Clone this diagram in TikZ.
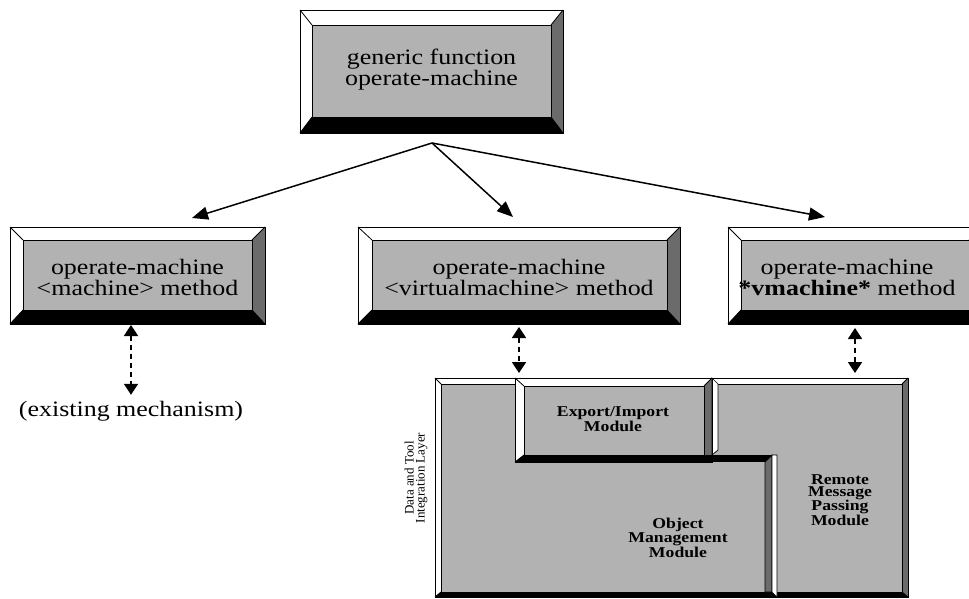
\documentclass[tikz,border=0pt]{standalone}
\usepackage{fontspec}
\setmainfont[FakeStretch=1.18]{Liberation Serif}
\newfontfamily\plainserif{Liberation Serif}
\usetikzlibrary{arrows.meta,calc}

\definecolor{facegray}{gray}{0.70}
\definecolor{bevdark}{gray}{0.42}

\tikzset{
  frame/.style={inner sep=0pt, outer sep=0pt},
  boxtext/.style={align=center, inner sep=0pt, font=\fontsize{22}{21}\selectfont},
  modtext/.style={align=center, inner sep=0pt, font=\fontsize{15}{11}\selectfont\bfseries},
  callarrow/.style={line width=1.5pt, -{Triangle[length=16pt,width=13pt]}},
  linkarrow/.style={line width=1.8pt, dash pattern=on 5pt off 4pt,
    {Triangle[length=11pt,width=14pt]}-{Triangle[length=11pt,width=14pt]}},
  ridge/.style={line width=0.7pt}
}

% bevelled box drawn round a named frame node: #1 name, #2 left, #3 top, #4 right, #5 bottom
\newcommand\bevelbox[5]{%
  \coordinate (o1) at (#1.north west);
  \coordinate (o2) at (#1.north east);
  \coordinate (o3) at (#1.south east);
  \coordinate (o4) at (#1.south west);
  \coordinate (i1) at ($(o1)+(#2,#3)$);
  \coordinate (i2) at ($(o2)+(-#4,#3)$);
  \coordinate (i3) at ($(o3)+(-#4,-#5)$);
  \coordinate (i4) at ($(o4)+(#2,-#5)$);
  \fill[white] (o1)--(o2)--(i2)--(i1)--cycle;
  \fill[white] (o1)--(i1)--(i4)--(o4)--cycle;
  \fill[bevdark] (o2)--(o3)--(i3)--(i2)--cycle;
  \fill[black] (o4)--(i4)--(i3)--(o3)--cycle;
  \filldraw[fill=facegray, draw=black, line width=0.6pt] (i1) rectangle (i3);
  \draw[line width=0.8pt] (o1)--(i1) (o2)--(i2) (o3)--(i3) (o4)--(i4);
  \draw[line width=1pt] (o1) rectangle (o3);
}

\begin{document}
\begin{tikzpicture}[x=1pt,y=-1pt]
\useasboundingbox (0,0) rectangle (969,598);
\clip (0,0) rectangle (969,598);

% generic function
\node[frame, minimum width=263pt, minimum height=123pt] (top) at (431.5,71.5) {};
\bevelbox{top}{12}{15}{12}{16}
\node[boxtext] (toptext) at (431.5,70) {generic function\\operate-machine};

% the three methods
\node[frame, minimum width=255pt, minimum height=97pt] (lbox) at (137.5,275.5) {};
\bevelbox{lbox}{13}{13}{13}{14}
\node[boxtext] (ltext) at (137.5,277) {operate-machine\\<machine> method};

\node[frame, minimum width=322pt, minimum height=97pt] (mbox) at (519,275.5) {};
\bevelbox{mbox}{14}{13}{13}{14}
\node[boxtext] (mtext) at (519,277) {operate-machine\\<virtualmachine> method};

\node[frame, minimum width=254pt, minimum height=97pt] (rbox) at (855,275.5) {};
\bevelbox{rbox}{13}{13}{13}{14}
\node[boxtext] (rtext) at (847,277) {operate-machine\\\textbf{*vmachine*} method};

% dispatch arrows
\coordinate (fork) at (432,143);
\coordinate (tipL) at (192,218);
\coordinate (tipM) at (513,217);
\coordinate (tipR) at (825,217);
\draw[callarrow] (fork) -- (tipL);
\draw[callarrow] (fork) -- (tipM);
\draw[callarrow] (fork) -- (tipR);

% existing mechanism
\node[boxtext] (exist) at (131,411) {(existing mechanism)};
\draw[linkarrow, shorten <=1pt, shorten >=6pt] (exist.north |- lbox.south) -- (exist.north);

% data and tool integration layer
\node[frame, minimum width=473pt, minimum height=219pt] (layer) at (671.5,487.5) {};
\bevelbox{layer}{6}{6}{6}{5}

\node[frame, minimum width=197pt, minimum height=84pt] (exp) at (613.5,420) {};
\bevelbox{exp}{9}{8}{8}{7}

% ridges bounding the object management module
\fill[black] (704,455) rectangle (772,462);
\filldraw[fill=white, draw=black, ridge] (712,378) -- (718,384) -- (718,450) -- (712,455) -- cycle;
\filldraw[fill=bevdark, draw=black, ridge] (765,462) -- (772,455) -- (772,592) -- (765,592) -- cycle;
\filldraw[fill=white, draw=black, ridge] (772,455) -- (777,455) -- (777,597) -- (772,592) -- cycle;
\draw[ridge] (712,378) -- (712,455);

\node[modtext] (expt) at (613,419) {Export/Import\\Module};
\node[modtext] (objt) at (678,538) {Object\\Management\\Module};
\node[modtext, font=\fontsize{15}{12}\selectfont\bfseries] (remt) at (840,500) {Remote\\Message\\Passing\\Module};
\node[align=center, inner sep=0pt, rotate=90, font=\plainserif\fontsize{13}{11}\selectfont] (layt) at (416,478) {Data and Tool\\Integration Layer};

% links from the methods into the layer
\draw[linkarrow, shorten <=3pt, shorten >=5pt] (mbox.south) -- (mbox.south |- layer.north);
\draw[linkarrow, shorten <=4pt, shorten >=5pt] (rbox.south) -- (rbox.south |- layer.north);
\end{tikzpicture}
\end{document}
